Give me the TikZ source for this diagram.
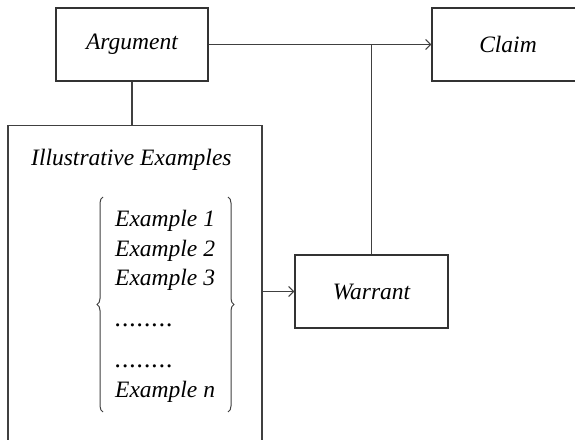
\documentclass[tikz,border=0pt]{standalone}
\usepackage{fontspec}
\setmainfont{Liberation Serif}
\usetikzlibrary{arrows.meta,decorations.pathreplacing}
\newcommand{\dotrow}{\hbox to 58pt{\fontsize{26}{26}\selectfont.\hfil.\hfil.\hfil.\hfil.\hfil.\hfil.\hfil.}}
\begin{document}
\begin{tikzpicture}[x=1pt,y=1pt,
  box/.style={draw=black!80,line width=1.2pt,minimum width=152pt,minimum height=73pt,inner sep=0pt,font=\fontsize{23.5}{26}\selectfont\itshape},
  conn/.style={draw=black!75,line width=1.2pt},
  arr/.style={conn,-{Straight Barb[length=5pt,width=10pt,line width=1.1pt]}},
  ex/.style={anchor=base west,inner sep=0pt,font=\fontsize{23.5}{26}\selectfont\itshape},
  br/.style={draw=black!75,line width=1pt,decorate,decoration={brace,amplitude=6pt}}]
\useasboundingbox (0,0) rectangle (575,439);
\fill[white] (0,0) rectangle (575,439);
\begin{scope}
\clip (0,0) rectangle (575,439);
\node[box] (arg) at (132,394.5) {Argument};
\node[box] (claim) at (508,394.5) {Claim};
\node[box,minimum width=153pt] (war) at (371.5,147.5) {Warrant};
\node[draw=black!75,line width=1.2pt,minimum width=254pt,minimum height=330pt,inner sep=0pt,anchor=north] (ie) at (135,314) {};
\node[ex] (iet) at (31,273) {Illustrative Examples};
\node[ex] (e1) at (115,212) {Example 1};
\node[ex] (e2) at (115,182) {Example 2};
\node[ex] (e3) at (115,153) {Example 3};
\node[ex] (d1) at (115,112) {\dotrow};
\node[ex] (d2) at (115,72) {\dotrow};
\node[ex] (en) at (115,42) {Example n};
\coordinate (lb) at (103,27);
\coordinate (lt) at (103,242);
\coordinate (rt) at (228,242);
\coordinate (rb) at (228,27);
\draw[br] (lb) -- (lt);
\draw[br] (rt) -- (rb);
\draw[arr] (arg.east) -- (claim.west);
\coordinate (j) at (war.north |- arg.east);
\draw[conn] (war.north) -- (j);
\draw[conn] (arg.south) -- (arg.south |- ie.north);
\draw[arr] (ie.east |- war.west) -- (war.west);
\end{scope}
\end{tikzpicture}
\end{document}
